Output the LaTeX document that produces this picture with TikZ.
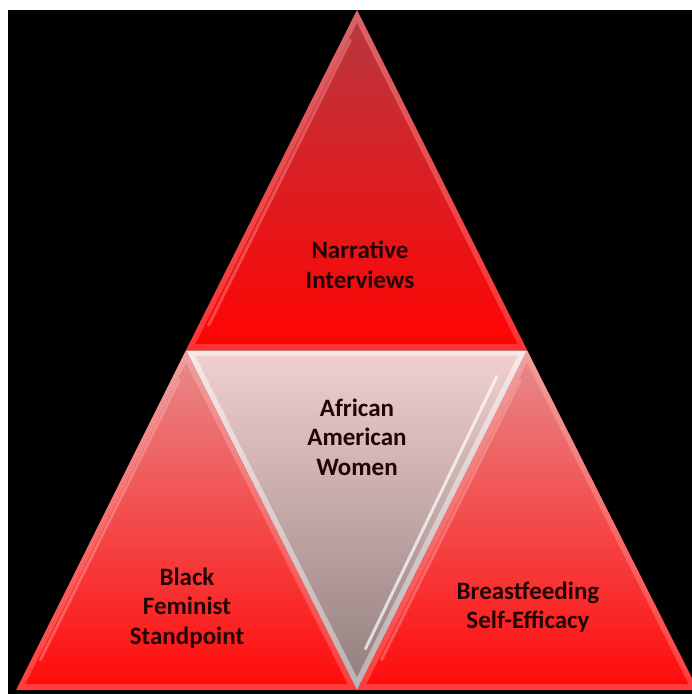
\documentclass[tikz,border=0pt]{standalone}
\usepackage{fontspec}
\setmainfont{Carlito}
\begin{document}
\begin{tikzpicture}[x=1pt,y=-1pt,
  lbl/.style={align=center,font=\bfseries\fontsize{25}{29.5}\selectfont,text=txtc,inner sep=0pt},
  hilite/.style={line width=3pt,line cap=round,opacity=0.35}]
\definecolor{txtc}{RGB}{35,5,5}
\definecolor{topA}{RGB}{185,55,62}
\definecolor{topB}{RGB}{215,32,36}
\definecolor{topC}{RGB}{255,4,4}
\definecolor{topbA}{RGB}{215,100,105}
\definecolor{topbC}{RGB}{255,50,50}
\definecolor{sideA}{RGB}{232,135,135}
\definecolor{sideB}{RGB}{246,72,72}
\definecolor{sideC}{RGB}{255,12,12}
\definecolor{sidebA}{RGB}{240,160,160}
\definecolor{sidebC}{RGB}{255,60,60}
\definecolor{midA}{RGB}{240,206,206}
\definecolor{midB}{RGB}{205,178,178}
\definecolor{midC}{RGB}{148,128,128}
\definecolor{midbA}{RGB}{250,232,232}
\definecolor{midbC}{RGB}{190,176,176}
\useasboundingbox (0,0) rectangle (692,694);
\fill[white] (0,0) rectangle (692,694);
\fill[black] (8,10) rectangle (692,694);
\begin{scope}
\clip (8,10) rectangle (692,694);
% top triangle
\shade[top color=topbA,bottom color=topbC] (357,10) -- (186,350) -- (527,350) -- cycle;
\begin{scope}[scale around={0.945:(356.5,244.7)}]
\shade[top color=topA,middle color=topB,bottom color=topC] (357,10) -- (186,350) -- (527,350) -- cycle;
\draw[hilite,white!70!red] (350,28) -- (200,330);
\end{scope}
% left triangle
\shade[top color=sidebA,bottom color=sidebC] (186,350) -- (16,690) -- (357,690) -- cycle;
\begin{scope}[scale around={0.945:(186.5,584.7)}]
\shade[top color=sideA,middle color=sideB,bottom color=sideC] (186,350) -- (16,690) -- (357,690) -- cycle;
\draw[hilite,white!75!red] (179,368) -- (32,664);
\end{scope}
% right triangle
\shade[top color=sidebA,bottom color=sidebC] (527,350) -- (357,690) -- (698,690) -- cycle;
\begin{scope}[scale around={0.945:(527.5,584.7)}]
\shade[top color=sideA,middle color=sideB,bottom color=sideC] (527,350) -- (357,690) -- (698,690) -- cycle;
\draw[hilite,white!75!red] (520,368) -- (373,664);
\end{scope}
% center inverted triangle
\shade[top color=midbA,bottom color=midbC] (186,350) -- (527,350) -- (357,690) -- cycle;
\begin{scope}[scale around={0.945:(356.5,455.3)}]
\shade[top color=midA,middle color=midB,bottom color=midC] (186,350) -- (527,350) -- (357,690) -- cycle;
\draw[line width=3pt,line cap=round,white,opacity=0.7] (505,372) -- (366,660);
\end{scope}
\draw[line width=1pt,red!60!black,opacity=0.5] (186,350) -- (527,350);
\end{scope}
\node[lbl] (narr) at (360,265) {Narrative\\Interviews};
\node[lbl] (aaw) at (357,437) {African\\American\\Women};
\node[lbl] (bfs) at (187,608) {Black\\Feminist\\Standpoint};
\node[lbl] (bse) at (528,607) {Breastfeeding\\Self-Efficacy};
\end{tikzpicture}
\end{document}
